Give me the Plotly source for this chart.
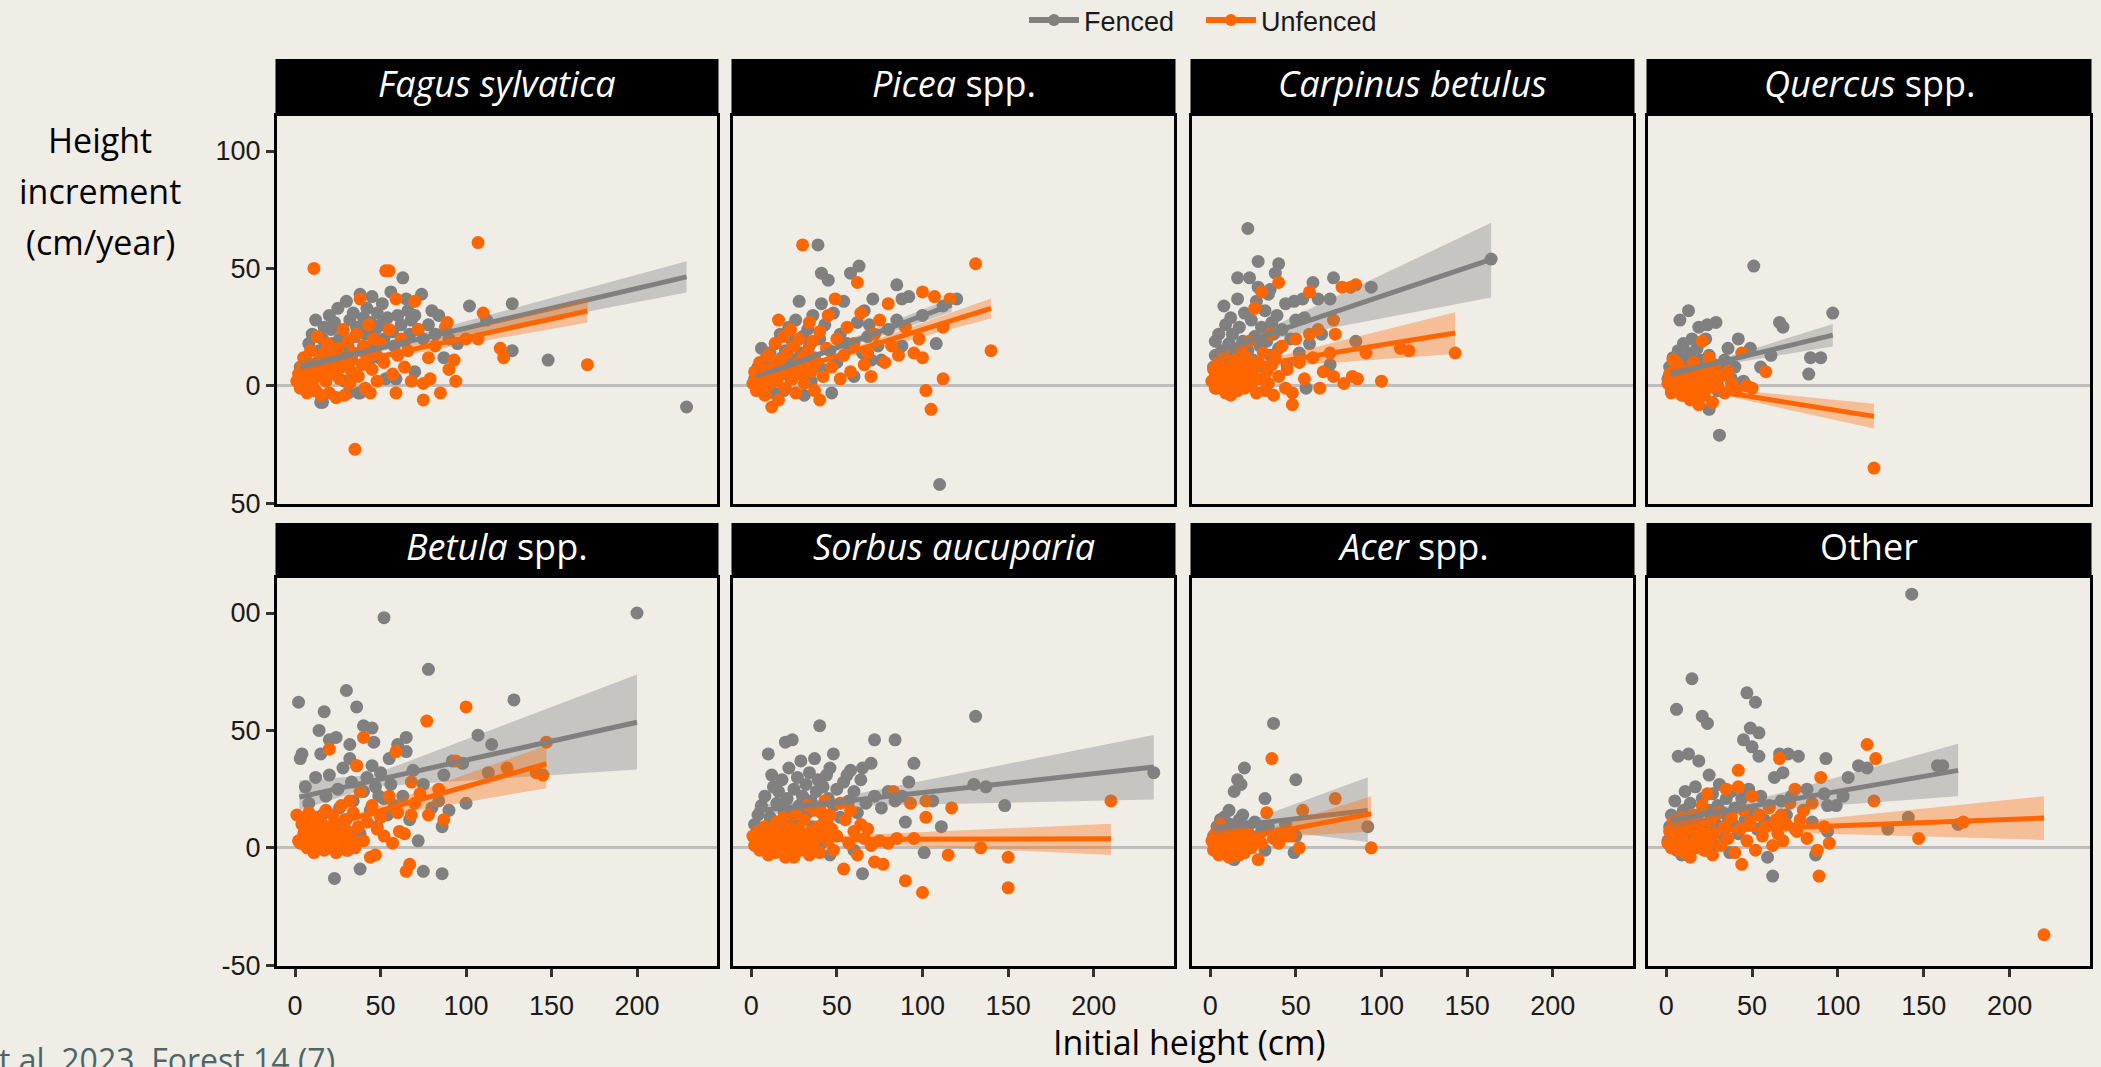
import plotly.graph_objects as go

W, H = 2101, 1067

# ---------------------------------------------------------------- labels
PANEL_TITLES = [
    "<i>Fagus sylvatica</i>", "<i>Picea</i> spp.", "<i>Carpinus betulus</i>", "<i>Quercus</i> spp.",
    "<i>Betula</i> spp.", "<i>Sorbus aucuparia</i>", "<i>Acer</i> spp.", "Other",
]
GROUPS = ["Fenced", "Unfenced"]
X_TICKS = [0, 50, 100, 150, 200]
Y_TICKS = [100, 50, 0, -50]
Y_TICKTEXT_TOP = ["100", "50", "0", "50"]
Y_TICKTEXT_BOTTOM = ["00", "50", "0", "-50"]
X_TITLE = "Initial height (cm)"
Y_TITLE_LINES = ["Height", "increment", "(cm/year)"]
SOURCE = "t al. 2023. Forest 14 (7)"

# ---------------------------------------------------------------- observations (initial height, increment)
FAGUS_FENCED = [
    (3, 8), (5, 3), (6, 12), (8, 18), (9, 5), (10, 22), (11, -2), (12, 28), (13, 10), (14, 15), (15, -7),
    (16, 20), (17, 25), (18, 6), (19, 13), (20, 30), (21, 24), (22, 18), (23, 27), (24, 8), (25, 33),
    (26, 20), (27, 14), (28, 23), (29, 2), (30, 36), (31, 17), (32, 28), (33, 11), (34, 31), (35, 21),
    (36, 25), (37, -3), (38, 39), (39, 15), (40, 29), (41, 22), (42, 33), (43, 9), (44, 27), (45, 38),
    (46, 18), (47, 24), (48, 31), (49, 12), (50, 26), (51, 35), (52, 20), (53, 3), (54, 29), (56, 40),
    (57, 23), (58, 17), (59, 3), (60, 30), (62, 26), (63, 46), (64, 19), (65, 37), (66, 32), (67, 22),
    (68, 28), (70, 6), (70, 30), (72, 24), (74, 39), (75, 20), (78, 26), (80, 32), (82, 22), (84, 30),
    (87, 12), (90, 20), (95, 18), (102, 34), (112, 28), (127, 35), (127, 15), (148, 11), (229, -9),
    (16, -7), (31, -3), (38, -3),
]
FAGUS_UNFENCED = [
    (1, 2), (2, 5), (3, -1), (4, 8), (5, 0), (5, 12), (6, 3), (7, -3), (8, 6), (9, 15), (10, 1), (11, 50),
    (11, 9), (12, -2), (13, 4), (13, 21), (14, 11), (15, -4), (16, 7), (17, 14), (18, 2), (19, 18), (20, -3),
    (21, 9), (22, 5), (23, 12), (24, -5), (25, 16), (26, 3), (27, 8), (28, 24), (29, -4), (30, 10), (31, 19),
    (32, 1), (33, 6), (34, 14), (35, -27), (36, 22), (37, 4), (38, 37), (39, 9), (40, 17), (41, -1), (42, 12),
    (43, 26), (44, -3), (45, 7), (46, 20), (47, 14), (48, 2), (50, 18), (52, 10), (53, 49), (55, 49),
    (55, 24), (57, 5), (59, -3), (59, 37), (60, 13), (62, 20), (64, 8), (66, 15), (68, 2), (70, 36),
    (72, 24), (75, -6), (75, 1), (78, 12), (79, 3), (82, 17), (85, -3), (88, 25), (89, 27), (90, 7),
    (93, 11), (94, 2), (100, 20), (107, 20), (107, 61), (110, 31), (120, 16), (122, 12), (171, 9),
]
PICEA_FENCED = [
    (2, 3), (4, 8), (5, -1), (6, 16), (7, 5), (8, 11), (10, 2), (11, 14), (12, 7), (13, -3), (14, 18),
    (15, 9), (16, 4), (17, 22), (18, 12), (19, -2), (20, 15), (21, 8), (22, 25), (23, 3), (24, 19),
    (25, 11), (26, 28), (27, 6), (28, 36), (29, 14), (30, 21), (31, -4), (32, 9), (33, 24), (34, 17),
    (35, 2), (36, 30), (37, 12), (39, 60), (40, 20), (41, 35), (41, 48), (42, 7), (43, 26), (45, 45),
    (46, 15), (47, -3), (48, 31), (50, 10), (52, 22), (54, 36), (56, 18), (58, 48), (60, 4), (62, 27),
    (63, 51), (65, 14), (66, 32), (68, 21), (69, 26), (70, 11), (71, 37), (74, 17), (76, 11), (80, 24),
    (85, 28), (85, 43), (88, 17), (88, 37), (92, 38), (100, 30), (108, 18), (110, -42), (112, 34), (120, 37),
]
PICEA_UNFENCED = [
    (1, 1), (2, 6), (3, -2), (4, 4), (5, 10), (6, 0), (7, 7), (8, -4), (9, 3), (10, 13), (11, 1), (12, -9),
    (13, 8), (14, 18), (15, 2), (16, 28), (16, -6), (17, 11), (18, 5), (19, 21), (20, -1), (21, 14), (22, 7),
    (23, 24), (24, 3), (25, 17), (26, -3), (27, 9), (28, 20), (29, 5), (30, 60), (30, 12), (31, 1), (33, 15),
    (34, 27), (35, 6), (36, 19), (37, -2), (38, 10), (40, -6), (40, 23), (42, 4), (44, 16), (45, 30),
    (47, 8), (49, 37), (50, 20), (52, 3), (54, 13), (56, 25), (58, 6), (60, 18), (62, 44), (64, 31),
    (66, 9), (68, 14), (70, 4), (72, 22), (75, 28), (78, 10), (80, 35), (82, 17), (86, 13), (90, 25),
    (95, 14), (98, 20), (100, 12), (100, 40), (102, -2), (105, -10), (107, 38), (112, 3), (112, 25),
    (116, 37), (131, 52), (140, 15),
]
CARPINUS_FENCED = [
    (2, 8), (3, 19), (3, 13), (3, 4), (4, -1), (5, 22), (6, 10), (7, 15), (8, 34), (8, 3), (9, 26),
    (10, 12), (11, 18), (12, 29), (12, 7), (13, 22), (14, -2), (15, 14), (16, 37), (16, 46), (17, 25),
    (18, 9), (19, 19), (20, 31), (21, 5), (22, 67), (22, 15), (23, 46), (24, 28), (25, 11), (26, 21),
    (27, 36), (28, 53), (28, 42), (29, 17), (30, 25), (31, 8), (32, 32), (33, 19), (34, 39), (35, 41),
    (35, 13), (36, 27), (37, 22), (38, 48), (39, 30), (40, 52), (40, 16), (42, 24), (44, 35), (45, 9),
    (47, 20), (49, 36), (50, 28), (52, 14), (54, 37), (55, 29), (56, -1), (58, 18), (60, 44), (63, 37),
    (65, 22), (70, 37), (70, 9), (72, 46), (85, 19), (94, 42), (164, 54),
]
CARPINUS_UNFENCED = [
    (1, 2), (2, 7), (3, -1), (4, 4), (5, 10), (6, 0), (7, 5), (8, 14), (9, -3), (10, 3), (11, 8), (12, -4),
    (13, 1), (14, 11), (15, 6), (16, -2), (17, 3), (18, 16), (19, 8), (20, -1), (21, 12), (22, 4), (23, 19),
    (24, 0), (25, 7), (26, 33), (27, -3), (28, 10), (29, 3), (30, 40), (31, 14), (32, -2), (33, 6), (34, 1),
    (35, 22), (36, 9), (37, -4), (38, 13), (40, 44), (40, 4), (42, 17), (44, -1), (45, 7), (48, -8),
    (48, -3), (50, 20), (52, 10), (55, 3), (58, 22), (58, 40), (60, 12), (63, 24), (64, -1), (66, 6),
    (70, 14), (72, 28), (72, 4), (73, 22), (77, 42), (78, 1), (82, 42), (83, 4), (85, 43), (86, 3),
    (91, 14), (100, 2), (111, 16), (116, 15), (143, 14),
]
QUERCUS_FENCED = [
    (1, 3), (2, 8), (3, -2), (4, 12), (5, 5), (6, 0), (7, 15), (8, 28), (8, 9), (9, 3), (10, -4), (10, 18),
    (11, 11), (12, 6), (13, 32), (13, -1), (14, 14), (15, 20), (15, 4), (16, 9), (17, -5), (18, 16),
    (19, 25), (19, 2), (20, 11), (21, -3), (22, 7), (23, 20), (24, 26), (25, -10), (25, 13), (26, 4),
    (28, 9), (29, 27), (30, -2), (31, -21), (32, 6), (34, 11), (36, 16), (38, 3), (40, 8), (42, 20),
    (45, 2), (49, 16), (51, 51), (55, 8), (61, 13), (66, 27), (68, 25), (83, 5), (84, 12), (90, 12), (97, 31),
]
QUERCUS_UNFENCED = [
    (1, 1), (2, 5), (3, -3), (4, 11), (4, 2), (5, -1), (6, 7), (7, 9), (8, 0), (9, -4), (10, 4), (11, -2),
    (12, 6), (13, 1), (14, -6), (15, 3), (16, 10), (17, -3), (18, 5), (19, -8), (20, 2), (21, 19), (22, -4),
    (23, 7), (24, -1), (25, 12), (26, 3), (27, -7), (28, 8), (30, 0), (32, 4), (34, -3), (36, 6), (38, 1),
    (41, -2), (44, 14), (47, 0), (50, -1), (58, 6), (121, -35),
]
BETULA_FENCED = [
    (2, 62), (3, 38), (4, 40), (5, 10), (6, 26), (8, 19), (10, 4), (12, 30), (14, 50), (15, 40), (16, 14),
    (17, 58), (18, 22), (20, 46), (20, 31), (22, 8), (23, -13), (24, 47), (25, 25), (26, 17), (28, 34),
    (30, 67), (30, 12), (31, -1), (32, 44), (32, 38), (33, 28), (34, 20), (36, 60), (36, 35), (37, 5),
    (38, 6), (38, -9), (40, 52), (40, 24), (42, 30), (44, 16), (45, 51), (45, 35), (46, 45), (47, 26),
    (48, 9), (49, 22), (50, 32), (52, 98), (52, 21), (54, 14), (55, 38), (56, 27), (58, 18), (60, 44),
    (63, 22), (65, 47), (65, 41), (67, 12), (69, 33), (72, 3), (75, 27), (75, -10), (78, 76), (80, 17),
    (84, 20), (86, -11), (86, 9), (87, 31), (90, 16), (92, 37), (98, 36), (100, 19), (107, 48), (113, 32),
    (115, 44), (128, 63), (200, 100),
]
BETULA_UNFENCED = [
    (1, 14), (2, 3), (3, 2), (4, 10), (5, 6), (6, 12), (7, 0), (8, 15), (9, 4), (10, 8), (11, -2), (12, 13),
    (13, 5), (14, 2), (15, 11), (16, 7), (17, -1), (18, 16), (19, 3), (20, 42), (20, 9), (21, 1), (22, 14),
    (23, 5), (24, -2), (25, 10), (26, 6), (27, 18), (28, 2), (29, 12), (30, -1), (31, 7), (32, 20), (33, 4),
    (34, 15), (35, 0), (36, 35), (37, 9), (38, 24), (40, 47), (40, 3), (42, 11), (44, -4), (45, 18),
    (47, -3), (48, 8), (50, 13), (52, 5), (55, 22), (57, 2), (59, 41), (60, 15), (61, 7), (64, 6),
    (65, -10), (67, -7), (68, 14), (68, 28), (70, 19), (73, 23), (77, 54), (78, 14), (84, 25), (87, 12),
    (94, 37), (100, 60), (124, 34), (141, 32), (145, 31), (147, 45),
]
SORBUS_FENCED = [
    (2, 10), (4, 14), (5, 5), (6, 18), (8, 22), (9, 8), (10, 40), (11, 13), (12, 31), (13, 26), (14, 3),
    (15, 19), (16, 24), (17, 11), (18, 29), (19, 16), (20, 45), (20, 7), (21, 21), (22, 34), (23, 14),
    (24, 46), (25, 25), (26, 10), (27, 30), (28, 18), (29, 37), (30, 22), (31, 5), (32, 27), (33, 15),
    (34, 32), (35, 20), (36, 9), (37, 38), (38, 24), (39, 29), (40, 52), (40, 17), (41, 2), (42, 26),
    (43, 12), (44, 31), (45, 21), (46, 34), (46, -3), (48, 40), (48, 18), (50, 25), (52, 13), (54, 28),
    (56, 31), (57, 20), (58, 33), (60, -1), (60, 24), (62, 15), (64, 29), (65, 34), (65, -11), (67, 19),
    (70, 36), (72, 46), (72, 22), (76, 17), (80, 24), (84, 46), (84, 20), (88, 22), (90, 11), (92, 28),
    (95, 36), (101, -2), (106, 20), (111, 9), (130, 27), (131, 56), (137, 26), (148, 18), (235, 32),
]
SORBUS_UNFENCED = [
    (1, 5), (2, 1), (3, 3), (4, 7), (5, -1), (6, 4), (7, 2), (8, 9), (9, 0), (10, -3), (11, 5), (12, 2),
    (13, 7), (14, -2), (15, 11), (16, 3), (17, 6), (18, 1), (19, 13), (20, -4), (21, 4), (22, 9), (23, 0),
    (24, 6), (25, -4), (26, 14), (27, 3), (28, 8), (29, -1), (30, 5), (31, 12), (32, 2), (33, 18), (34, -3),
    (35, 7), (36, 1), (37, 16), (38, 4), (39, 9), (40, -2), (41, 15), (42, 6), (43, 20), (44, 11), (45, 3),
    (46, 14), (47, 8), (48, -1), (50, 5), (52, 19), (54, -9), (55, 12), (57, 2), (58, 16), (60, 7),
    (62, -3), (64, 10), (66, 4), (68, 8), (70, 1), (72, -6), (75, 3), (77, -7), (80, 2), (83, 24), (85, 4),
    (90, -14), (93, 19), (95, 4), (100, -19), (102, 13), (102, 20), (115, -3), (117, 17), (134, 0),
    (150, -4), (150, -17), (210, 20),
]
ACER_FENCED = [
    (2, 5), (4, 9), (5, -2), (6, 12), (7, 3), (8, 13), (9, 7), (10, 0), (11, 16), (12, 10), (13, -3),
    (14, 24), (14, -5), (15, 6), (16, 29), (17, 12), (18, 27), (19, 14), (20, 34), (21, 2), (22, 9),
    (24, 5), (26, 11), (28, 3), (30, 7), (32, 21), (32, -1), (34, 9), (37, 53), (40, 6), (44, 10),
    (49, -2), (50, 29), (50, 5), (92, 9),
]
ACER_UNFENCED = [
    (1, 3), (2, -1), (3, 6), (4, 1), (5, -3), (6, 10), (7, 4), (8, -2), (9, 2), (10, 7), (11, -4), (12, 0),
    (13, 5), (14, -1), (15, 3), (16, 8), (17, -3), (18, 1), (19, 4), (20, -2), (22, 6), (24, 0), (26, 3),
    (28, -5), (30, 2), (33, 15), (36, 38), (37, 4), (40, 2), (44, 5), (47, 5), (52, 0), (54, 16), (73, 21),
    (94, 0),
]
OTHER_FENCED = [
    (1, 3), (2, 9), (3, 14), (4, 0), (5, 20), (6, 59), (6, 6), (7, 39), (8, 11), (9, -3), (10, 16), (11, 24),
    (12, 5), (13, 40), (13, 12), (14, 19), (15, 72), (15, 2), (16, 8), (17, 26), (18, 14), (19, 37), (20, 4),
    (21, 56), (21, 21), (22, 10), (23, -1), (24, 53), (25, 31), (25, 16), (26, 7), (27, 23), (28, 12),
    (29, 1), (30, 18), (31, 27), (32, 9), (33, 15), (34, 4), (35, 21), (36, 13), (37, -2), (38, 24),
    (39, 10), (40, 17), (42, 6), (44, 21), (45, 46), (46, 12), (47, 66), (48, 25), (49, 51), (50, 43),
    (51, 15), (52, 62), (53, 8), (54, 49), (54, 39), (55, 22), (57, 12), (59, -4), (60, 18), (62, -12),
    (63, 30), (64, 10), (66, 40), (67, 20), (68, 32), (70, 14), (71, 40), (73, 22), (75, 8), (77, 39),
    (80, 16), (82, 25), (85, 11), (87, -3), (92, 23), (93, 38), (94, 18), (94, 7), (99, 18), (103, 22),
    (106, 30), (112, 35), (117, 34), (129, 8), (141, 13), (143, 108), (158, 35), (161, 35), (170, 10),
]
OTHER_UNFENCED = [
    (1, 2), (2, 7), (3, 0), (4, 11), (5, 4), (6, -1), (7, 9), (8, 3), (9, 13), (10, 6), (11, -2), (12, 10),
    (13, 1), (14, -4), (15, 8), (16, 14), (17, 3), (18, 0), (19, 11), (20, 5), (21, 18), (22, -1), (23, 7),
    (24, 23), (25, 2), (26, 12), (27, -3), (28, 6), (30, 15), (32, 1), (34, 9), (35, 25), (36, 4), (38, 13),
    (40, -2), (42, 33), (42, 26), (43, 8), (44, -7), (45, 16), (47, 3), (49, 11), (50, 22), (52, -1),
    (54, 14), (56, 5), (58, 9), (60, 17), (62, 1), (64, 12), (65, 6), (66, 38), (67, 14), (68, 3), (70, 10),
    (72, 19), (75, 25), (76, 7), (78, 12), (80, 16), (82, 4), (85, 19), (88, -1), (89, -12), (90, 30),
    (92, 9), (95, 2), (117, 44), (121, 20), (122, 38), (147, 4), (173, 11), (220, -37),
]

# ---------------------------------------------------------------- fitted trends: (x, fit, lower, upper)
FAGUS_FENCED_FIT = [(3, 8.2, 5.7, 10.7), (40, 14.5, 13.3, 15.7), (229, 46.4, 39.7, 53.1)]
FAGUS_UNFENCED_FIT = [(3, 5.0, 3.0, 7.0), (40, 10.9, 9.9, 11.9), (171, 31.9, 27.0, 37.2)]
PICEA_FENCED_FIT = [(3, 3.5, 1.5, 5.5), (35, 12.2, 11.2, 13.2), (117, 34.5, 31.5, 37.5)]
PICEA_UNFENCED_FIT = [(3, 2.0, 0.5, 3.5), (35, 9.2, 8.4, 10.0), (140, 33.0, 28.7, 37.2)]
CARPINUS_FENCED_FIT = [(3, 14.4, 10.4, 18.4), (30, 21.0, 19.0, 23.0), (164, 53.9, 37.6, 69.4)]
CARPINUS_UNFENCED_FIT = [(3, 6.0, 3.5, 8.5), (30, 9.2, 7.7, 10.7), (143, 22.5, 13.6, 31.3)]
QUERCUS_FENCED_FIT = [(2.5, 5.1, 3.1, 7.1), (25, 9.0, 8.0, 10.0), (97, 21.6, 16.8, 26.3)]
QUERCUS_UNFENCED_FIT = [(2.5, 0.9, -0.6, 2.4), (20, -1.1, -1.9, -0.3), (121, -13.0, -18.2, -7.6)]
BETULA_FENCED_FIT = [(2.5, 21.6, 16.0, 28.7), (45, 28.5, 26.0, 31.0), (200, 53.5, 33.4, 73.8)]
BETULA_UNFENCED_FIT = [(2, 6.0, 3.0, 9.0), (35, 12.8, 11.3, 14.3), (147, 35.8, 25.4, 43.6)]
SORBUS_FENCED_FIT = [(2, 15.7, 13.2, 18.4), (45, 19.1, 17.6, 20.6), (235, 34.4, 20.6, 48.1)]
SORBUS_UNFENCED_FIT = [(2, 3.6, 2.1, 5.1), (40, 3.7, 2.7, 4.7), (210, 3.9, -3.0, 10.3)]
ACER_FENCED_FIT = [(2, 8.4, 5.4, 11.4), (25, 10.3, 8.5, 12.1), (92, 15.9, 2.5, 30.1)]
ACER_UNFENCED_FIT = [(2, 1.8, -0.2, 3.8), (25, 5.0, 3.8, 6.2), (94, 14.5, 7.0, 22.0)]
OTHER_FENCED_FIT = [(2.5, 11.7, 7.7, 15.7), (40, 16.5, 15.0, 18.0), (170, 33.0, 22.0, 44.3)]
OTHER_UNFENCED_FIT = [(2.5, 6.7, 4.7, 8.7), (45, 7.9, 6.9, 8.9), (220, 12.7, 3.4, 22.0)]

PANEL_POINTS = [
    (FAGUS_FENCED, FAGUS_UNFENCED), (PICEA_FENCED, PICEA_UNFENCED),
    (CARPINUS_FENCED, CARPINUS_UNFENCED), (QUERCUS_FENCED, QUERCUS_UNFENCED),
    (BETULA_FENCED, BETULA_UNFENCED), (SORBUS_FENCED, SORBUS_UNFENCED),
    (ACER_FENCED, ACER_UNFENCED), (OTHER_FENCED, OTHER_UNFENCED),
]
PANEL_FITS = [
    (FAGUS_FENCED_FIT, FAGUS_UNFENCED_FIT), (PICEA_FENCED_FIT, PICEA_UNFENCED_FIT),
    (CARPINUS_FENCED_FIT, CARPINUS_UNFENCED_FIT), (QUERCUS_FENCED_FIT, QUERCUS_UNFENCED_FIT),
    (BETULA_FENCED_FIT, BETULA_UNFENCED_FIT), (SORBUS_FENCED_FIT, SORBUS_UNFENCED_FIT),
    (ACER_FENCED_FIT, ACER_UNFENCED_FIT), (OTHER_FENCED_FIT, OTHER_UNFENCED_FIT),
]

# ---------------------------------------------------------------- styling
BG = "#F0EDE7"
POINT_COLORS = {"Fenced": "rgb(128,128,128)", "Unfenced": "rgb(255,102,0)"}
RIBBON_COLORS = {"Fenced": "rgba(128,128,128,0.36)", "Unfenced": "rgba(255,102,0,0.35)"}
LEGEND_WIDTHS = {"Fenced": 112, "Unfenced": 160}
TEXT_FONT = "'Open Sans', Lato, sans-serif"
TICK_FONT = "'Liberation Sans', Arial, sans-serif"

# panel geometry in pixels
COLS_PX = [(277, 717), (733, 1174), (1192, 1633), (1648, 2090)]
ROWS_PX = [(116, 504), (578, 966)]
STRIPS_PX = [(59, 116), (523, 578)]
X_RANGE = [-10.6, 246.8]
Y_RANGE = [-50.3, 114.9]


def px_x(p):
    return p / W


def px_y(p):
    return 1 - p / H


fig = go.Figure()

for i in range(8):
    row, col = divmod(i, 4)
    n = i + 1
    xa, ya = ("x" if n == 1 else f"x{n}"), ("y" if n == 1 else f"y{n}")
    pts_f, pts_u = PANEL_POINTS[i]
    fit_f, fit_u = PANEL_FITS[i]

    for grp, pts in zip(GROUPS, (pts_f, pts_u)):
        fig.add_trace(go.Scatter(
            x=[p[0] for p in pts], y=[p[1] for p in pts], mode="markers",
            marker=dict(size=13, color=POINT_COLORS[grp], line=dict(width=0)),
            xaxis=xa, yaxis=ya, showlegend=False, hoverinfo="skip",
        ))

    for grp, fit in zip(GROUPS, (fit_f, fit_u)):
        xs = [r[0] for r in fit]
        lo = [r[2] for r in fit]
        hi = [r[3] for r in fit]
        fig.add_trace(go.Scatter(
            x=xs + xs[::-1], y=hi + lo[::-1], mode="lines", fill="toself",
            fillcolor=RIBBON_COLORS[grp], line=dict(width=0),
            xaxis=xa, yaxis=ya, showlegend=False, hoverinfo="skip",
        ))
        fig.add_trace(go.Scatter(
            x=xs, y=[r[1] for r in fit], mode="lines",
            line=dict(color=POINT_COLORS[grp], width=5),
            xaxis=xa, yaxis=ya, showlegend=False, hoverinfo="skip",
        ))

    x0, x1 = COLS_PX[col]
    y0, y1 = ROWS_PX[row]
    fig.layout[("xaxis" if n == 1 else f"xaxis{n}")] = dict(
        domain=[px_x(x0), px_x(x1)], range=X_RANGE, anchor=ya,
        showline=True, mirror=True, linecolor="black", linewidth=3,
        showgrid=False, zeroline=False,
        tickvals=X_TICKS, ticks="outside" if row == 1 else "", ticklen=8, tickwidth=2.5,
        tickcolor="#333333", showticklabels=(row == 1), ticklabelstandoff=6,
        tickfont=dict(family=TICK_FONT, size=27, color="#1a1a1a"),
    )
    fig.layout[("yaxis" if n == 1 else f"yaxis{n}")] = dict(
        domain=[px_y(y1), px_y(y0)], range=Y_RANGE, anchor=xa,
        showline=True, mirror=True, linecolor="black", linewidth=3,
        showgrid=False, zeroline=True, zerolinecolor="#BDBDBD", zerolinewidth=2.5,
        tickvals=Y_TICKS, ticktext=(Y_TICKTEXT_TOP if row == 0 else Y_TICKTEXT_BOTTOM),
        ticks="outside" if col == 0 else "", ticklen=8, tickwidth=2.5, tickcolor="#333333",
        showticklabels=(col == 0),
        tickfont=dict(family=TICK_FONT, size=27, color="#1a1a1a"),
    )

    # facet strip
    s0, s1 = STRIPS_PX[row]
    fig.add_shape(type="rect", xref="paper", yref="paper",
                  x0=px_x(x0 - 1.5), x1=px_x(x1 + 1.5), y0=px_y(s1), y1=px_y(s0),
                  fillcolor="black", line=dict(width=0))
    fig.add_annotation(xref="paper", yref="paper", x=px_x((x0 + x1) / 2), y=px_y((s0 + s1) / 2 - 4),
                       text=PANEL_TITLES[i], showarrow=False, xanchor="center", yanchor="middle",
                       font=dict(family=TEXT_FONT, size=36, color="white"))

# legend entries
for grp in GROUPS:
    fig.add_trace(go.Scatter(
        x=[None], y=[None], mode="lines+markers", name=grp, legendwidth=LEGEND_WIDTHS[grp],
        line=dict(color=POINT_COLORS[grp], width=6),
        marker=dict(size=12, color=POINT_COLORS[grp]),
    ))

# axis titles and source line
for k, line in enumerate(Y_TITLE_LINES):
    fig.add_annotation(xref="paper", yref="paper", x=px_x(100), y=px_y(140 + 51 * k),
                       text=line, showarrow=False, xanchor="center", yanchor="middle",
                       font=dict(family=TEXT_FONT, size=34, color="black"))
fig.add_annotation(xref="paper", yref="paper", x=px_x(1189), y=px_y(1042),
                   text=X_TITLE, showarrow=False, xanchor="center", yanchor="middle",
                   font=dict(family=TEXT_FONT, size=34, color="black"))
fig.add_annotation(xref="paper", yref="paper", x=px_x(-3), y=px_y(1036),
                   text=SOURCE, showarrow=False, xanchor="left", yanchor="top",
                   font=dict(family=TEXT_FONT, size=32, color="#4D6666"))

fig.update_layout(
    width=W, height=H, margin=dict(l=0, r=0, t=0, b=0, autoexpand=False),
    paper_bgcolor=BG, plot_bgcolor=BG,
    showlegend=True,
    legend=dict(orientation="h", x=px_x(1024), xanchor="left", y=px_y(-4), yanchor="top",
                bgcolor="rgba(0,0,0,0)", font=dict(family=TICK_FONT, size=27, color="#1a1a1a"),
                itemsizing="trace", itemwidth=50),
)

fig.write_html("out.html")
